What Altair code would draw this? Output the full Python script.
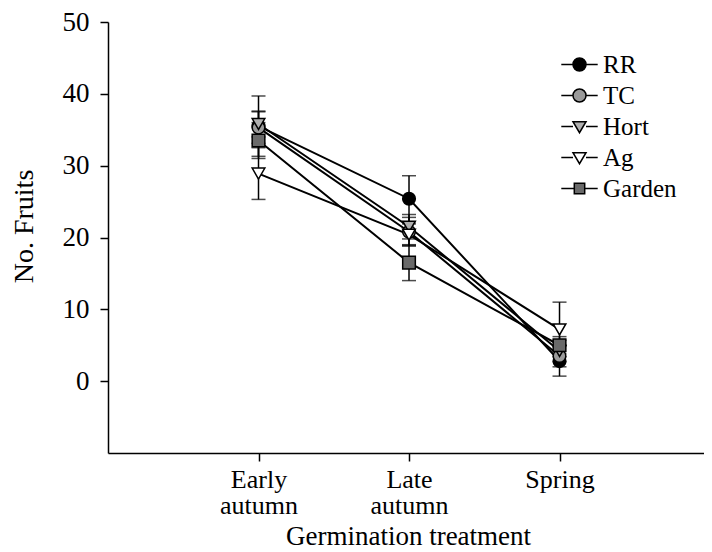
import altair as alt
import pandas as pd

categories = ["Early autumn", "Late autumn", "Spring"]
series = ["RR", "TC", "Hort", "Ag", "Garden"]

rr_mean = [35.5, 25.4, 2.8]
tc_mean = [35.3, 20.8, 3.5]
hort_mean = [35.8, 21.5, 4.2]
ag_mean = [28.9, 20.4, 7.2]
garden_mean = [33.5, 16.5, 5.0]

rr_err = [4.2, 3.2, 2.1]
tc_err = [2.2, 2.0, 1.5]
hort_err = [1.8, 1.7, 1.5]
ag_err = [3.6, 1.5, 3.8]
garden_err = [2.5, 2.5, 1.2]

y_ticks = [0, 10, 20, 30, 40, 50]

fills = ["#000000", "#9a9a9a", "#b0b0b0", "#ffffff", "#6a6a6a"]
plot_shapes = ["circle", "circle", "triangle-down", "triangle-down", "square"]
legend_shapes = [
    "M-2.8,0H-1M1,0H2.8M1,0A1,1 0 1,1 -1,0A1,1 0 1,1 1,0Z",
    "M-2.8,0H-1M1,0H2.8M1,0A1,1 0 1,1 -1,0A1,1 0 1,1 1,0Z",
    "M-2.8,0H-1M1,0H2.8M-1,-0.75L1,-0.75L0,0.95Z",
    "M-2.8,0H-1M1,0H2.8M-1,-0.75L1,-0.75L0,0.95Z",
    "M-2.8,0H-0.8M0.8,0H2.8M-0.8,-0.8H0.8V0.8H-0.8Z",
]

means = [rr_mean, tc_mean, hort_mean, ag_mean, garden_mean]
errs = [rr_err, tc_err, hort_err, ag_err, garden_err]

rows = []
for k, (s, m, e) in enumerate(zip(series, means, errs)):
    for i, c in enumerate(categories):
        rows.append({
            "series": s, "x": i + 1, "treatment": c, "mean": m[i], "err": e[i],
            "shape": plot_shapes[k], "fillc": fills[k],
        })
df = pd.DataFrame(rows)

cat_list = "[" + ",".join("'" + c + "'" for c in categories) + "]"
label_expr = f"datum.value >= 1 && datum.value <= {len(categories)} ? split({cat_list}[datum.value - 1], ' ') : ''"

FONT = "Liberation Serif"

x_enc = alt.X(
    "x:Q",
    scale=alt.Scale(domain=[0, 3.96], nice=False, zero=False),
    axis=alt.Axis(
        values=[1, 2, 3],
        labelExpr=label_expr,
        title="Germination treatment",
        grid=False,
        tickSize=8,
        labelPadding=5,
        labelFontSize=26,
        labelLineHeight=26,
        titleFontSize=27,
        titleFontWeight="normal",
        titleX=300,
        titleY=83,
        titleAlign="center",
        titleBaseline="middle",
    ),
)
y_scale = alt.Scale(domain=[-10, 50], nice=False, zero=False)
y_axis = alt.Axis(
    values=y_ticks,
    title="No. Fruits",
    grid=False,
    tickSize=8,
    labelPadding=11,
    labelFontSize=27,
    titleFontSize=28,
    titleFontWeight="normal",
    titleAngle=270,
    titleX=-84,
    titleY=204,
    titleAlign="center",
    titleBaseline="middle",
)

base = alt.Chart(df)

lines = base.mark_line(color="black", strokeWidth=2).encode(
    x=x_enc,
    y=alt.Y("mean:Q", scale=y_scale, axis=y_axis),
    detail="series:N",
    order="x:Q",
)

err_base = base.transform_calculate(lo="datum.mean - datum.err", hi="datum.mean + datum.err")
rules = err_base.mark_rule(color="black", strokeWidth=1.5).encode(
    x="x:Q", y="lo:Q", y2="hi:Q"
)
caps_lo = err_base.mark_tick(orient="horizontal", color="black", size=14, thickness=1.5).encode(
    x="x:Q", y="lo:Q"
)
caps_hi = err_base.mark_tick(orient="horizontal", color="black", size=14, thickness=1.5).encode(
    x="x:Q", y="hi:Q"
)

points = base.mark_point(stroke="black", strokeWidth=1.5, size=160, opacity=1, fillOpacity=1).encode(
    x="x:Q",
    y="mean:Q",
    shape=alt.Shape("shape:N", scale=None),
    fill=alt.Fill("fillc:N", scale=None),
)

legend_def = alt.Legend(
    title=None,
    orient="none",
    legendX=459,
    legendY=30,
    symbolSize=169,
    symbolStrokeColor="black",
    symbolStrokeWidth=1.5,
    labelFontSize=25,
    labelFont=FONT,
    labelColor="black",
    labelOffset=11,
    rowPadding=5,
    padding=0,
)

legend_layer = base.transform_filter("false").mark_point(
    stroke="black", strokeWidth=1.5, size=169, opacity=1, fillOpacity=1
).encode(
    x="x:Q",
    y="mean:Q",
    shape=alt.Shape("series:N", scale=alt.Scale(domain=series, range=legend_shapes), legend=legend_def),
    fill=alt.Fill("series:N", scale=alt.Scale(domain=series, range=fills), legend=legend_def),
    stroke=alt.Stroke("series:N", scale=alt.Scale(domain=series, range=["black"] * len(series)), legend=legend_def),
)

chart = (
    alt.layer(lines, rules, caps_lo, caps_hi, points, legend_layer)
    .properties(
        width=596,
        height=431,
        autosize=alt.AutoSizeParams(type="none"),
        padding={"left": 100, "top": 14, "right": 0, "bottom": 96},
        background="white",
    )
    .configure_view(stroke=None)
    .configure_axis(
        domainColor="black",
        domainWidth=1.5,
        tickColor="black",
        tickWidth=1.5,
        labelColor="black",
        titleColor="black",
        labelFont=FONT,
        titleFont=FONT,
    )
    .configure_legend(labelFont=FONT)
)

chart.save("out.html", embed_options={"renderer": "svg", "actions": False})
